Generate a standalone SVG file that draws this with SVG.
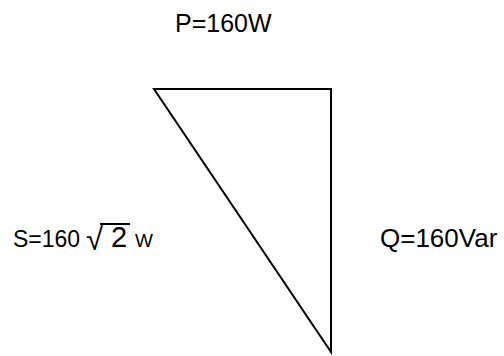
<svg xmlns="http://www.w3.org/2000/svg" width="504" height="356" viewBox="0 0 504 356">
<style>
.t{font-family:"Liberation Sans",Arial,sans-serif;fill:#000}
.e{fill:none;stroke:#000;stroke-width:2}
</style>
<rect width="504" height="356" fill="#fff"/>
<g id="triangle"><path class="e" d="M154 89 L331 89 L331 352 Z"/></g>
<g id="label-p"><text class="t" x="175" y="32" font-size="25">P=160W</text></g>
<g id="label-s"><text class="t" x="13" y="247" font-size="23">S=160</text>
<text class="t" x="86" y="250" font-size="31">√</text>
<line x1="100" y1="224" x2="130" y2="224" stroke="#000" stroke-width="2"/>
<text class="t" x="111" y="247" font-size="29">2</text>
<text class="t" x="135" y="247" font-size="19">W</text></g>
<g id="label-q"><text class="t" x="380" y="247" font-size="26">Q=160Var</text></g>
</svg>
